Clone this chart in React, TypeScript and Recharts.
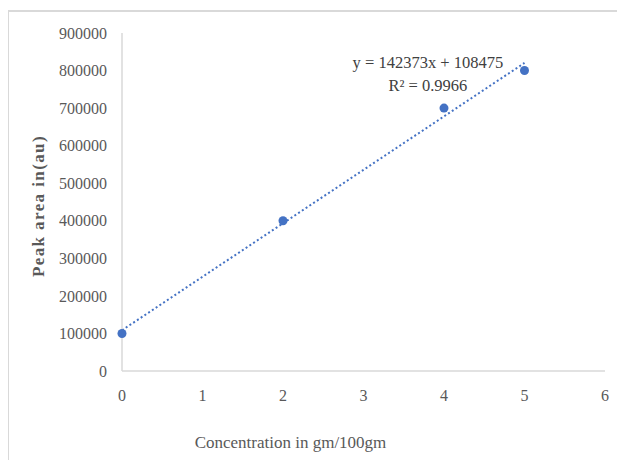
import React from 'react';
import { ComposedChart, Scatter, Line, XAxis, YAxis, ReferenceDot } from 'recharts';

const concentrations = [0, 2, 4, 5];
const peakAreas = [100000, 400000, 700000, 800000];
const slope = 142373;
const intercept = 108475;
const rSquared = '0.9966';
const xTicks = [0, 1, 2, 3, 4, 5, 6];
const yTicks = [0, 100000, 200000, 300000, 400000, 500000, 600000, 700000, 800000, 900000];
const trendX = [0, 5];

const points = concentrations.map((x, i) => ({ x, y: peakAreas[i] }));
const trend = trendX.map((x) => ({ x, t: slope * x + intercept }));

const FONT = '"Liberation Serif", "Times New Roman", serif';

const EqLabel = (props: any) => {
  const { viewBox } = props;
  const cx = viewBox.x + (viewBox.width || 0) / 2;
  const cy = viewBox.y + (viewBox.height || 0) / 2;
  return (
    <g>
      <text x={cx} y={cy - 6} textAnchor="middle" fontFamily={FONT} fontSize={16.5} fill="#404040">
        {`y = ${slope}x + ${intercept}`}
      </text>
      <text x={cx} y={cy + 17} textAnchor="middle" fontFamily={FONT} fontSize={16.5} fill="#404040">
        {`R² = ${rSquared}`}
      </text>
    </g>
  );
};

export default function App() {
  return (
    <div style={{ marginTop: 2, width: 617, height: 450, borderTop: '2px solid #d9d9d9', borderLeft: '1px solid #d9d9d9' }}>
      <ComposedChart width={616} height={448} margin={{ top: 21, right: 20, left: 0, bottom: 0 }}>
        <XAxis
          type="number"
          dataKey="x"
          domain={[0, 6]}
          ticks={xTicks}
          tickLine={false}
          tickSize={0}
          tickMargin={19}
          height={89}
          axisLine={{ stroke: '#d9d9d9', strokeWidth: 1.5 }}
          tick={{ fontFamily: FONT, fontSize: 16, fill: '#595959' }}
          label={{
            value: 'Concentration in gm/100gm',
            position: 'insideBottom',
            dx: -73,
            offset: 12,
            style: { fontFamily: FONT, fontSize: 17, fill: '#595959' },
          }}
        />
        <YAxis
          type="number"
          domain={[0, 900000]}
          ticks={yTicks}
          tickLine={false}
          tickSize={0}
          tickMargin={15}
          width={113}
          axisLine={{ stroke: '#d9d9d9', strokeWidth: 1.5 }}
          tick={{ fontFamily: FONT, fontSize: 16, fill: '#595959' }}
          label={{
            value: 'Peak area in(au)',
            angle: -90,
            position: 'insideLeft',
            offset: 29,
            dy: 4,
            style: { fontFamily: FONT, fontSize: 17, fontWeight: 'bold', letterSpacing: 1.4, fill: '#595959', textAnchor: 'middle' },
          }}
        />
        <Line
          data={trend}
          dataKey="t"
          type="linear"
          stroke="#4472C4"
          strokeWidth={2}
          strokeDasharray="2 2.5"
          dot={false}
          activeDot={false}
          isAnimationActive={false}
        />
        <Scatter data={points} dataKey="y" fill="#4472C4" shape={(p: any) => <circle cx={p.cx} cy={p.cy} r={4.5} fill="#4472C4" />} isAnimationActive={false} />
        <ReferenceDot x={3.8} y={790000} r={0} fill="none" stroke="none" label={<EqLabel />} />
      </ComposedChart>
    </div>
  );
}
